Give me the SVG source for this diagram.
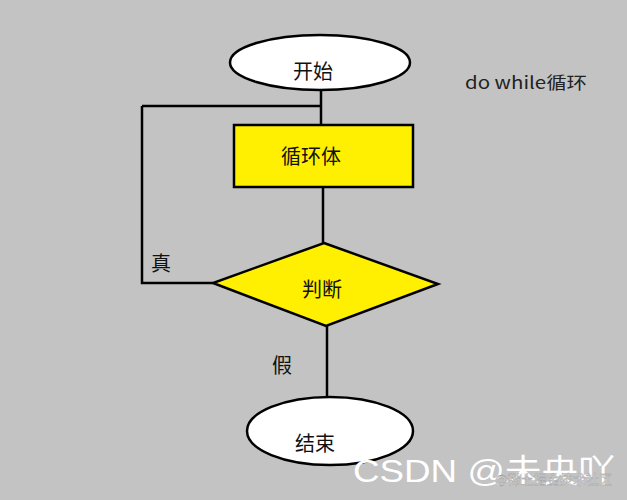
<svg xmlns="http://www.w3.org/2000/svg" width="627" height="500" viewBox="0 0 627 500">
<style>
.shape{stroke:#000;stroke-width:2.5}
.line{stroke:#000;stroke-width:2.5;fill:none}
.t{font-family:"Noto Sans CJK SC","Liberation Sans",sans-serif;font-size:20px;fill:#111;text-anchor:middle;dominant-baseline:central}
</style>
<rect width="627" height="500" fill="#c3c3c3"/>
<g id="connectors">
<path class="line" d="M321,90 V125"/>
<path class="line" d="M142,106 H321"/>
<path class="line" d="M323,187 V243"/>
<path class="line" d="M213,283 H142 V106"/>
<path class="line" d="M327,326 V398"/>
</g>
<g id="start">
<ellipse class="shape" cx="320" cy="62.5" rx="90" ry="27.5" fill="#fff"/>
<text class="t" x="313" y="70">开始</text>
</g>
<g id="body">
<rect class="shape" x="234" y="125" width="179" height="62" fill="#ffef00"/>
<text class="t" x="311" y="155">循环体</text>
</g>
<g id="cond">
<polygon class="shape" points="324,243 438,284 326,326 213,283" fill="#ffef00"/>
<text class="t" x="322" y="288">判断</text>
</g>
<g id="end">
<ellipse class="shape" cx="330" cy="431" rx="83" ry="34" fill="#fff"/>
<text class="t" x="315" y="442">结束</text>
</g>
<text class="t" x="161" y="262" font-size="19">真</text>
<text class="t" x="282" y="364" font-size="19">假</text>
<text x="465" y="81" font-family="'Noto Sans CJK SC','Liberation Sans',sans-serif" font-size="17" fill="#222" dominant-baseline="central" textLength="122" lengthAdjust="spacingAndGlyphs">do while循环</text>
<text x="353" y="482" font-family="'Liberation Sans','Noto Sans CJK SC',sans-serif" font-size="32" fill="#fff" textLength="262" lengthAdjust="spacingAndGlyphs">CSDN @未央吖</text>
<text x="495" y="484" font-family="'Noto Sans CJK SC',sans-serif" font-size="13" fill="#e2e2e2" stroke="#999" stroke-width="0.35" textLength="117" lengthAdjust="spacingAndGlyphs">@稀土掘金技术社区</text>
</svg>
